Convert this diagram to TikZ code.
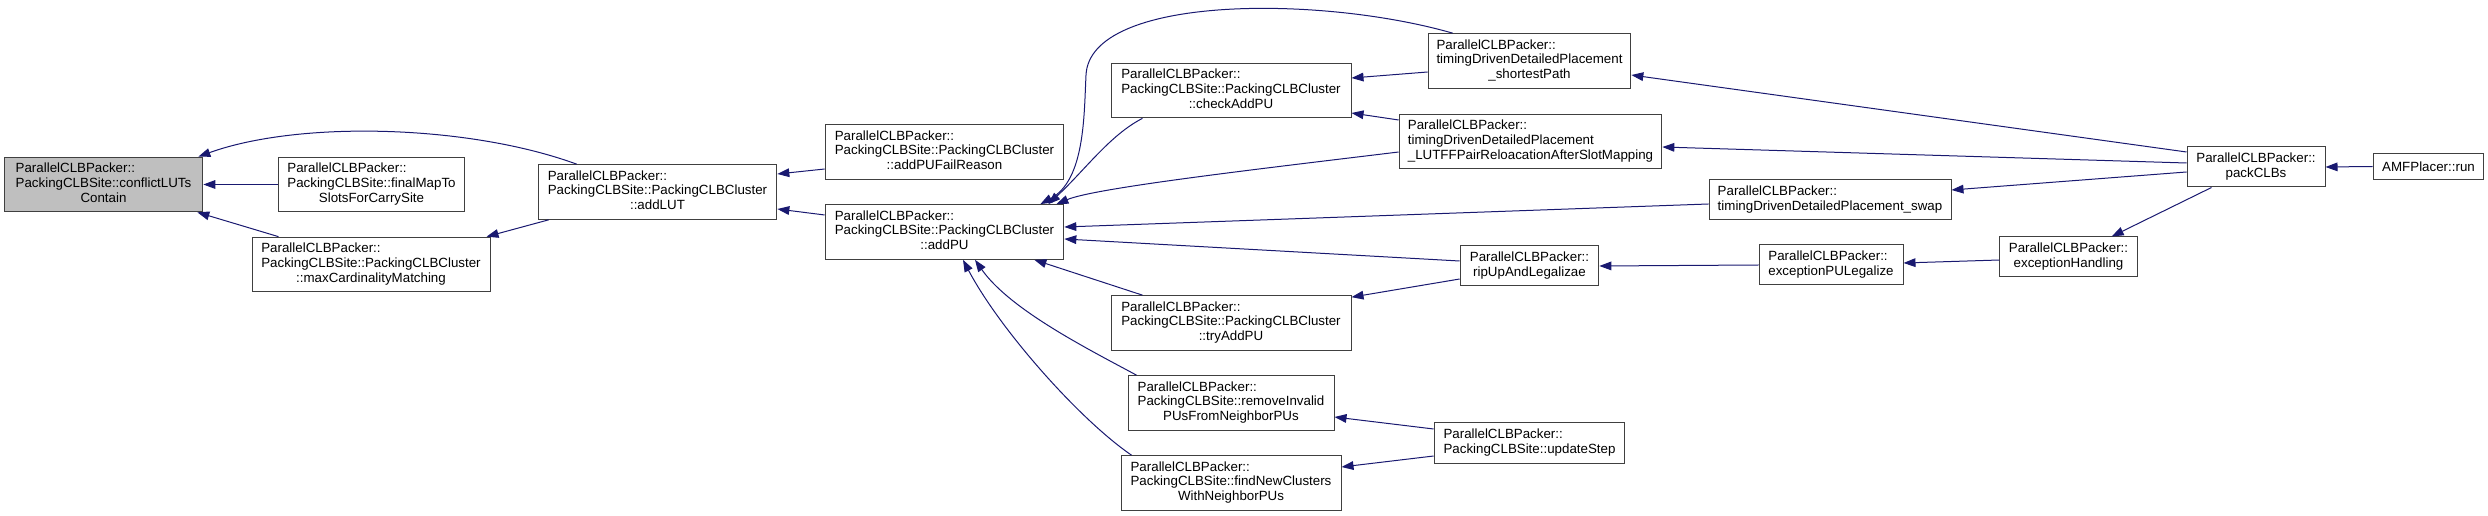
\documentclass[tikz,border=0pt]{standalone}
\usepackage{fontspec}
\setmainfont{Liberation Sans}
\usepackage{tikz}
\usetikzlibrary{arrows.meta, calc}
\definecolor{callblue}{RGB}{25,25,112}
\definecolor{selfgray}{RGB}{191,191,191}
\definecolor{boxline}{RGB}{64,64,64}
\newcommand{\fnlbl}[2]{\begin{tabular}{@{}l@{}}#1\\\multicolumn{1}{@{}c@{}}{#2}\end{tabular}}
\tikzset{
  fnbox/.style={rectangle, draw=boxline, fill=white, line width=0.75pt,
    inner sep=1pt, font=\fontsize{10}{11}\selectfont},
  fnthree/.style={fnbox, minimum height=41pt},
  fntwo/.style={fnbox, minimum height=30pt},
  selfbox/.style={fnthree, fill=selfgray},
  callarrow/.style={-{Triangle[length=9pt,width=6.5pt]}, color=callblue, line width=0.75pt}
}

\begin{document}
\begin{tikzpicture}[x=0.75pt, y=-0.75pt]
\useasboundingbox (0,0) rectangle (2488,516);
% functions
\node[selfbox, minimum width=149pt] (conflict) at (103.5,184.5)
  {\fnlbl{ParallelCLBPacker::\\PackingCLBSite::conflictLUTs}{Contain}};
\node[fnthree, minimum width=140pt] (finalMap) at (371.5,184.5)
  {\fnlbl{ParallelCLBPacker::\\PackingCLBSite::finalMapTo}{SlotsForCarrySite}};
\node[fnthree, minimum width=178.5pt] (maxCard) at (371,264.5)
  {\fnlbl{ParallelCLBPacker::\\PackingCLBSite::PackingCLBCluster}{::maxCardinalityMatching}};
\node[fnthree, minimum width=179pt] (addLUT) at (657.5,192)
  {\fnlbl{ParallelCLBPacker::\\PackingCLBSite::PackingCLBCluster}{::addLUT}};
\node[fnthree, minimum width=179pt] (addPUFail) at (944.5,152)
  {\fnlbl{ParallelCLBPacker::\\PackingCLBSite::PackingCLBCluster}{::addPUFailReason}};
\node[fnthree, minimum width=179pt] (addPU) at (944.5,232)
  {\fnlbl{ParallelCLBPacker::\\PackingCLBSite::PackingCLBCluster}{::addPU}};
\node[fnthree, minimum width=180pt] (checkAddPU) at (1231,90.5)
  {\fnlbl{ParallelCLBPacker::\\PackingCLBSite::PackingCLBCluster}{::checkAddPU}};
\node[fnthree, minimum width=180pt] (tryAddPU) at (1231,323)
  {\fnlbl{ParallelCLBPacker::\\PackingCLBSite::PackingCLBCluster}{::tryAddPU}};
\node[fnthree, minimum width=154.5pt] (removeInv) at (1231,403)
  {\fnlbl{ParallelCLBPacker::\\PackingCLBSite::removeInvalid}{PUsFromNeighborPUs}};
\node[fnthree, minimum width=165pt] (findNew) at (1231,483)
  {\fnlbl{ParallelCLBPacker::\\PackingCLBSite::findNewClusters}{WithNeighborPUs}};
\node[fnthree, minimum width=152pt] (shortPath) at (1529.5,61)
  {\fnlbl{ParallelCLBPacker::\\timingDrivenDetailedPlacement}{\_shortestPath}};
\node[fnthree, minimum width=197pt] (lutffPair) at (1530.5,141.5)
  {\fnlbl{ParallelCLBPacker::\\timingDrivenDetailedPlacement}{\_LUTFFPairReloacationAfterSlotMapping}};
\node[fntwo, minimum width=104pt] (ripUp) at (1529.5,266)
  {\fnlbl{ParallelCLBPacker::}{ripUpAndLegalizae}};
\node[fntwo, minimum width=143pt] (updateStep) at (1529.5,443)
  {\fnlbl{ParallelCLBPacker::}{PackingCLBSite::updateStep}};
\node[fntwo, minimum width=181.5pt] (tdSwap) at (1830,200)
  {\fnlbl{ParallelCLBPacker::}{timingDrivenDetailedPlacement\_swap}};
\node[fntwo, minimum width=108pt] (excLegalize) at (1831,265)
  {\fnlbl{ParallelCLBPacker::}{exceptionPULegalize}};
\node[fntwo, minimum width=103pt] (excHandling) at (2068.5,257)
  {\fnlbl{ParallelCLBPacker::}{exceptionHandling}};
\node[fntwo, minimum width=103.5pt] (packCLBs) at (2256,167)
  {\fnlbl{ParallelCLBPacker::}{packCLBs}};
\node[fnbox, minimum width=83pt, minimum height=20pt] (amfRun) at (2428.5,166.5)
  {AMFPlacer::run};
% callers of conflictLUTsContain
\draw[callarrow] (finalMap.west) -- (conflict.east);
\draw[callarrow] ($(maxCard.north west)+(27,0)$) -- ($(conflict.south east)+(-6,0)$);
\draw[callarrow] ($(addLUT.north west)+(39,0)$) .. controls (470,125) and (300,120) .. ($(conflict.north east)+(-5,0)$);
\draw[callarrow] ($(addLUT.south west)+(11,0)$) -- ($(maxCard.north east)+(-4,0)$);
% callers of addLUT
\draw[callarrow] ($(addPUFail.west)+(0,17)$) -- ($(addLUT.east)+(0,-18)$);
\draw[callarrow] ($(addPU.west)+(0,-17)$) -- ($(addLUT.east)+(0,17)$);
% callers of addPU
\draw[callarrow] ($(shortPath.north west)+(25,0)$) .. controls (1320,-5) and (1090,-5) .. (1086,75)
  .. controls (1084,115) and (1085,180) .. ($(addPU.north east)+(-24,0)$);
\draw[callarrow] ($(checkAddPU.south west)+(32,0)$) .. controls (1110,135) and (1085,170) .. ($(addPU.north east)+(-16,0)$);
\draw[callarrow] ($(lutffPair.west)+(0,10.5)$) .. controls (1250,170) and (1095,188) .. ($(addPU.north east)+(-8,0)$);
\draw[callarrow] ($(tdSwap.west)+(0,4)$) -- ($(addPU.east)+(0,-5)$);
\draw[callarrow] ($(ripUp.west)+(0,-5)$) -- ($(addPU.east)+(0,7)$);
\draw[callarrow] ($(tryAddPU.north west)+(32,0)$) -- ($(addPU.south east)+(-30,0)$);
\draw[callarrow] ($(removeInv.north west)+(9,0)$) .. controls (1090,350) and (1010,310) .. ($(addPU.south)+(30.5,0)$);
\draw[callarrow] ($(findNew.north west)+(11,0)$) .. controls (1080,420) and (1000,330) .. ($(addPU.south)+(18.5,0)$);
% second column
\draw[callarrow] ($(shortPath.west)+(0,11)$) -- ($(checkAddPU.east)+(0,-12.5)$);
\draw[callarrow] ($(lutffPair.west)+(0,-21.5)$) -- ($(checkAddPU.east)+(0,22.5)$);
\draw[callarrow] ($(ripUp.west)+(0,13)$) -- ($(tryAddPU.north east)+(0,2)$);
\draw[callarrow] ($(updateStep.west)+(0,-14)$) -- ($(removeInv.east)+(0,14)$);
\draw[callarrow] ($(updateStep.west)+(0,13)$) -- ($(findNew.east)+(0,-16)$);
% packCLBs and above
\draw[callarrow] ($(packCLBs.west)+(0,-15)$) -- ($(shortPath.east)+(0,14)$);
\draw[callarrow] ($(packCLBs.west)+(0,-4)$) -- ($(lutffPair.east)+(0,5.5)$);
\draw[callarrow] ($(packCLBs.west)+(0,5)$) -- ($(tdSwap.east)+(0,-10)$);
\draw[callarrow] ($(packCLBs.south west)+(25,0)$) -- ($(excHandling.north east)+(-26,0)$);
\draw[callarrow] ($(excHandling.west)+(0,3)$) -- ($(excLegalize.east)+(0,-2)$);
\draw[callarrow] (excLegalize.west) -- (ripUp.east);
\draw[callarrow] (amfRun.west) -- (packCLBs.east);
\end{tikzpicture}
\end{document}
